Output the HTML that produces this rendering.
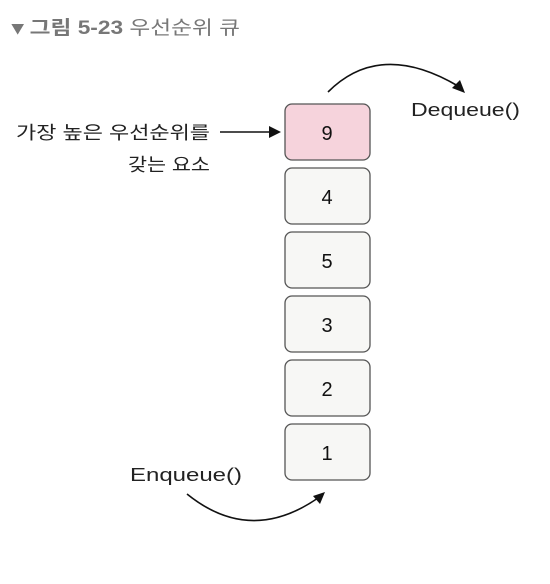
<!DOCTYPE html>
<html><head><meta charset="utf-8"><style>
body{margin:0;background:#fff;}
svg{display:block}
</style></head><body>
<svg width="550" height="584" xmlns="http://www.w3.org/2000/svg">
<text x="12" y="34" font-family="Liberation Sans, Noto Sans CJK KR, sans-serif" font-size="19" fill="#777" textLength="228" lengthAdjust="spacingAndGlyphs"><tspan font-weight="bold">▾ 그림 5-23</tspan>  우선순위 큐</text>
<g stroke="#555" stroke-width="1.3">
<rect x="285" y="104" width="85" height="56" rx="7" fill="#f6d3dc"/>
<rect x="285" y="168" width="85" height="56" rx="7" fill="#f7f7f5"/>
<rect x="285" y="232" width="85" height="56" rx="7" fill="#f7f7f5"/>
<rect x="285" y="296" width="85" height="56" rx="7" fill="#f7f7f5"/>
<rect x="285" y="360" width="85" height="56" rx="7" fill="#f7f7f5"/>
<rect x="285" y="424" width="85" height="56" rx="7" fill="#f7f7f5"/>
</g>
<g font-family="Liberation Sans, sans-serif" font-size="20" fill="#111" text-anchor="middle">
<text x="327" y="140">9</text><text x="327" y="204">4</text><text x="327" y="268">5</text>
<text x="327" y="332">3</text><text x="327" y="396">2</text><text x="327" y="460">1</text>
</g>
<g fill="none" stroke="#111" stroke-width="1.6">
<path d="M328 92 Q380 40 458 86"/>
<path d="M220 132 L272 132"/>
<path d="M187 494 Q250 545 318 498"/>
</g>
<g fill="#111">
<polygon points="465,93 452,88 460,80"/>
<polygon points="281,132 269,126 269,138"/>
<polygon points="325,492 313,496 320,504"/>
</g>
<g font-family="Liberation Sans, Noto Sans CJK KR, sans-serif" font-size="18" fill="#222">
<text x="411" y="116" textLength="109" lengthAdjust="spacingAndGlyphs">Dequeue()</text>
<text x="16" y="139" textLength="194" lengthAdjust="spacingAndGlyphs">가장 높은 우선순위를</text>
<text x="128" y="171" textLength="82" lengthAdjust="spacingAndGlyphs">갖는 요소</text>
<text x="130" y="481" textLength="112" lengthAdjust="spacingAndGlyphs">Enqueue()</text>
</g>
</svg>
</body></html>
